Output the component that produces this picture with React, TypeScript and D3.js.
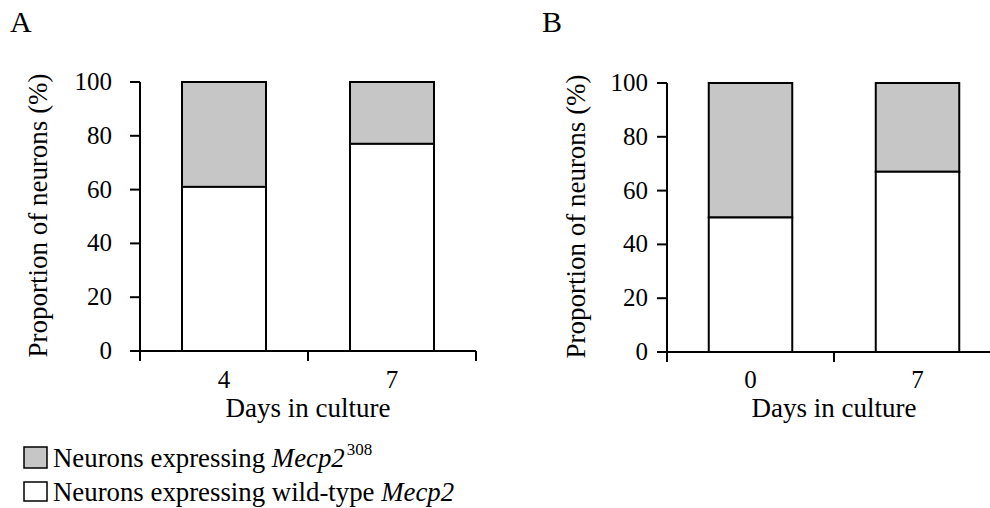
import React from "react";
import * as d3 from "d3";

const daysA = ["4", "7"];
const wildTypeA = [61, 77];
const mutantA = [39, 23];

const daysB = ["0", "7"];
const wildTypeB = [50, 67];
const mutantB = [50, 33];

const yTicks = [0, 20, 40, 60, 80, 100];

const FONT = "Liberation Serif, Tinos, Times New Roman, DejaVu Serif, serif";
const GRAY = "#c6c6c6";

type PanelProps = {
  letter: string;
  letterX: number;
  days: string[];
  wild: number[];
  mutant: number[];
  axisX: number;
  axisEnd: number;
  yTop: number;
  yBottom: number;
  labelGap: number;
  titleX: number;
};

function Panel({ letter, letterX, days, wild, mutant, axisX, axisEnd, yTop, yBottom, labelGap, titleX }: PanelProps) {
  const x = d3.scaleBand().domain(days).range([axisX, axisEnd]).paddingInner(0.5).paddingOuter(0.25);
  const y = d3.scaleLinear().domain([0, 100]).range([yBottom, yTop]);
  const step = x.step();
  const bounds = d3.range(days.length + 1).map((i) => axisX + i * step);
  const midY = (yTop + yBottom) / 2;

  return (
    <g style={{ fontFamily: FONT }}>
      <text x={letterX} y={32} fontSize={30}>{letter}</text>
      {days.map((d, i) => {
        const bx = x(d)!;
        const w = x.bandwidth();
        return (
          <g key={d}>
            <rect x={bx} y={y(wild[i] + mutant[i])} width={w} height={y(wild[i]) - y(wild[i] + mutant[i])}
              fill={GRAY} stroke="#000" strokeWidth={2} />
            <rect x={bx} y={y(wild[i])} width={w} height={y(0) - y(wild[i])}
              fill="#fff" stroke="#000" strokeWidth={2} />
            <text x={bx + w / 2} y={388} fontSize={25} textAnchor="middle">{d}</text>
          </g>
        );
      })}
      <line x1={axisX} x2={axisX} y1={yTop} y2={yBottom} stroke="#000" strokeWidth={2} />
      <line x1={axisX - 10} x2={axisEnd} y1={yBottom} y2={yBottom} stroke="#000" strokeWidth={2} />
      {yTicks.map((t) => (
        <g key={t}>
          <line x1={axisX - 10} x2={axisX} y1={y(t)} y2={y(t)} stroke="#000" strokeWidth={2} />
          <text x={axisX - labelGap} y={y(t) + 8} fontSize={25} textAnchor="end">{t}</text>
        </g>
      ))}
      {bounds.map((b, i) => (
        <line key={i} x1={b} x2={b} y1={yBottom} y2={yBottom + 10} stroke="#000" strokeWidth={2} />
      ))}
      <text transform={`translate(${titleX},${midY - 1}) rotate(-90)`} fontSize={27}
        textAnchor="middle">Proportion of neurons (%)</text>
      <text x={axisX + step} y={417} fontSize={27} textAnchor="middle">Days in culture</text>
    </g>
  );
}

export default function App() {
  return (
    <svg width={990} height={508} style={{ position: "absolute", left: 0, top: 0, background: "#fff" }}>
      <Panel letter="A" letterX={10} days={daysA} wild={wildTypeA} mutant={mutantA} axisX={140} axisEnd={476}
        yTop={82} yBottom={351} labelGap={28} titleX={47} />
      <Panel letter="B" letterX={542} days={daysB} wild={wildTypeB} mutant={mutantB} axisX={667} axisEnd={1001}
        yTop={83} yBottom={352} labelGap={19} titleX={585} />
      <g style={{ fontFamily: FONT }} fontSize={26.8}>
        <rect x={24} y={447} width={23} height={21} fill={GRAY} stroke="#000" strokeWidth={1.5} />
        <text x={53} y={467}>
          Neurons expressing <tspan fontStyle="italic">Mecp2</tspan>
          <tspan fontSize={17} dy={-12} dx={2}>308</tspan>
        </text>
        <rect x={24} y={482} width={23} height={19} fill="#fff" stroke="#000" strokeWidth={1.5} />
        <text x={53} y={501}>
          Neurons expressing wild-type <tspan fontStyle="italic">Mecp2</tspan>
        </text>
      </g>
    </svg>
  );
}
